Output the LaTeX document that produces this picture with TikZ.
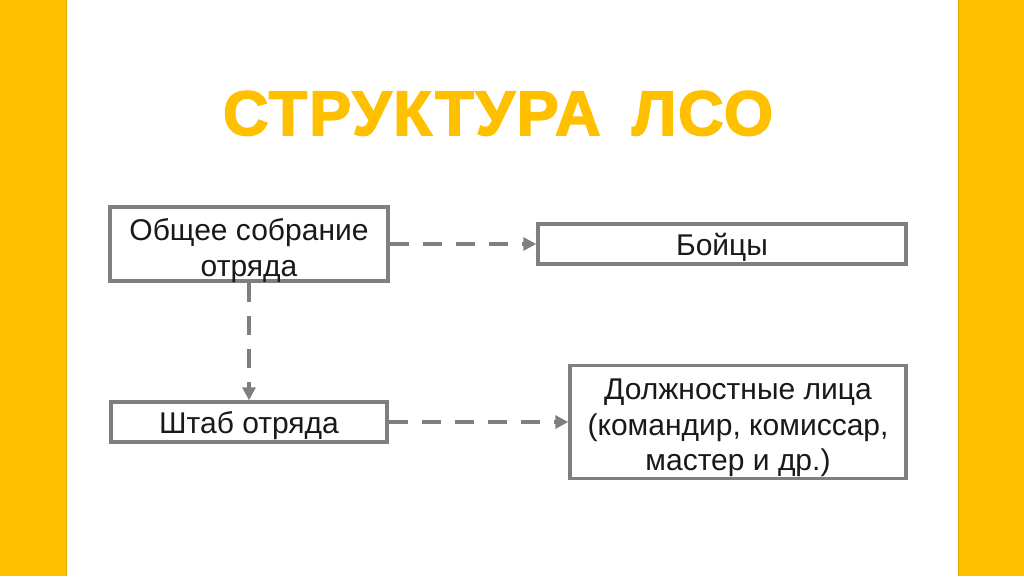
\documentclass[tikz,border=0pt]{standalone}
\usepackage{fontspec}
\setmainfont{Liberation Sans}
\newfontfamily\heavyfont[FakeBold=2.5,LetterSpace=3]{Liberation Sans Bold}
\usetikzlibrary{arrows.meta}
\definecolor{barfill}{HTML}{FFC000}
\definecolor{baredge}{HTML}{E0A800}
\definecolor{boxgray}{HTML}{7F7F7F}

\begin{document}
\begin{tikzpicture}[x=1pt,y=-1pt,
box/.style={draw=boxgray, line width=3.5pt, align=center, inner sep=0pt, text=black!90, font=\fontsize{30}{35.5}\selectfont},
oneline/.style={text height=24pt, text depth=0.6pt},
link/.style={draw=boxgray, line width=3.5pt, dash pattern=on 19pt off 14pt, -{Triangle[length=13pt,width=13pt]}}]
\useasboundingbox[fill=white] (0,0) rectangle (1024,576);
\fill[barfill] (0,0) rectangle (66,576);
\fill[barfill] (958,0) rectangle (1024,576);
\draw[baredge, line width=1pt] (66,0) -- (66,576) (958,0) -- (958,576);
\node[anchor=base, inner sep=0pt, text=barfill, font=\fontsize{63}{72}\heavyfont] (title) at (498,135) {СТРУКТУРА\hspace{0.5em}ЛСО};
\node[box, minimum width=278pt, minimum height=74pt, text height=64pt, text depth=0pt] (meeting) at (249,244) {Общее собрание\\отряда};
\node[box, oneline, minimum width=368pt, minimum height=40pt] (fighters) at (722,244) {Бойцы};
\node[box, oneline, minimum width=276pt, minimum height=40pt] (staff) at (249,422) {Штаб отряда};
\node[box, minimum width=336pt, minimum height=113pt, text height=97pt, text depth=0pt] (officials) at (738,422) {Должностные лица\\(командир, комиссар,\\мастер и др.)};
\draw[link] (meeting.east) -- (fighters.west);
\draw[link] (meeting.south) -- (staff.north);
\draw[link] (staff.east) -- (officials.west);
\end{tikzpicture}
\end{document}
